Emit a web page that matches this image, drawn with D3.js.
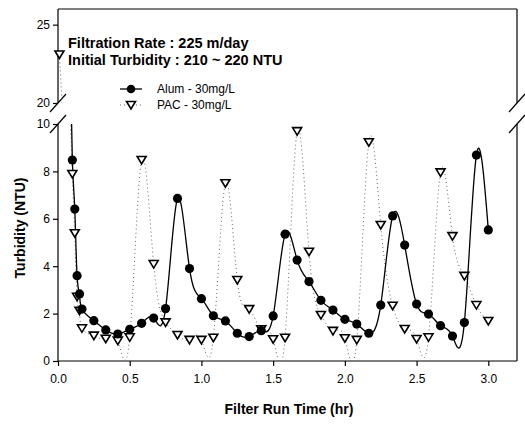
<!DOCTYPE html>
<html>
<head>
<meta charset="utf-8">
<script src="https://cdn.jsdelivr.net/npm/d3@7"></script>
<style>
  body { margin: 0; background: #fff; }
  svg { font-family: Arial, "Liberation Sans", sans-serif; }
  .axis path, .axis line { stroke: #000; stroke-width: 1.2; }
  .axis text { font-size: 12px; fill: #000; }
</style>
</head>
<body>
<svg id="chart" width="525" height="424"></svg>
<script>
// data
const alumTime = [0.083, 0.100, 0.117, 0.133, 0.150, 0.167, 0.250, 0.333, 0.417, 0.500, 0.583, 0.667, 0.750, 0.833, 0.917, 1.000, 1.083, 1.167, 1.250, 1.333, 1.417, 1.500, 1.583, 1.667, 1.750, 1.833, 1.917, 2.000, 2.083, 2.167, 2.250, 2.333, 2.417, 2.500, 2.583, 2.667, 2.750, 2.833, 2.917, 3.000];
const alumTurb = [13.5, 8.48, 6.41, 3.60, 2.83, 2.19, 1.70, 1.31, 1.14, 1.34, 1.59, 1.81, 2.21, 6.86, 3.90, 2.63, 1.91, 1.69, 1.17, 1.03, 1.28, 1.90, 5.35, 4.26, 3.35, 2.56, 2.15, 1.76, 1.56, 1.17, 2.36, 6.12, 4.89, 2.40, 1.98, 1.49, 1.05, 1.62, 8.69, 5.53];

const pacTime = [0.010, 0.100, 0.117, 0.133, 0.150, 0.167, 0.250, 0.333, 0.417, 0.500, 0.583, 0.667, 0.750, 0.833, 0.917, 1.000, 1.083, 1.167, 1.250, 1.333, 1.417, 1.500, 1.583, 1.667, 1.750, 1.833, 1.917, 2.000, 2.083, 2.167, 2.250, 2.333, 2.417, 2.500, 2.583, 2.667, 2.750, 2.833, 2.917, 3.000];
const pacTurb = [23.1, 7.89, 5.39, 2.71, 2.12, 1.38, 1.07, 0.94, 0.86, 1.00, 8.48, 4.09, 1.63, 1.10, 0.89, 0.89, 0.98, 7.50, 3.42, 2.19, 1.34, 0.92, 0.98, 9.70, 4.61, 1.94, 1.27, 0.96, 0.89, 9.23, 5.74, 2.33, 1.35, 0.93, 1.00, 7.96, 5.27, 3.59, 2.36, 1.69];

const xTicks = [0, 0.5, 1.0, 1.5, 2.0, 2.5, 3.0];
const yTicksLow = [0, 2, 4, 6, 8, 10];
const yTicksHigh = [20, 25];

const alum = alumTime.map((t, i) => ({ t, v: alumTurb[i] }));
const pac = pacTime.map((t, i) => ({ t, v: pacTurb[i] }));

const svg = d3.select("#chart");

// layout
const left = 58, right = 517;
const hiTop = 9, hiBottom = 103;
const loTop = 124, loBottom = 361;

const x = d3.scaleLinear().domain([0, 3.2]).range([left, right]);
const yHi = d3.scaleLinear().domain([20, 26]).range([hiBottom, hiTop]);
const yLo = d3.scaleLinear().domain([0, 10]).range([loBottom, loTop]);

// clip areas for the two panels
const defs = svg.append("defs");
defs.append("clipPath").attr("id", "clipHi").append("rect")
    .attr("x", left).attr("y", hiTop).attr("width", right - left).attr("height", hiBottom - hiTop);
defs.append("clipPath").attr("id", "clipLo").append("rect")
    .attr("x", left).attr("y", loTop).attr("width", right - left).attr("height", loBottom - loTop);

// frame: top line and right side
svg.append("line").attr("x1", left).attr("x2", right).attr("y1", hiTop).attr("y2", hiTop)
    .attr("stroke", "#000").attr("stroke-width", 1.2);
svg.append("line").attr("x1", right).attr("x2", right).attr("y1", hiTop).attr("y2", hiBottom)
    .attr("stroke", "#000").attr("stroke-width", 1.2);
svg.append("line").attr("x1", right).attr("x2", right).attr("y1", loTop).attr("y2", loBottom)
    .attr("stroke", "#000").attr("stroke-width", 1.2);

// axes
svg.append("g").attr("class", "axis")
    .attr("transform", `translate(0,${loBottom})`)
    .call(d3.axisBottom(x).tickValues(xTicks).tickFormat(d3.format(".1f")).tickSize(5).tickPadding(8))
    .call(g => g.select(".domain").attr("d", `M${left},0H${right}`));

svg.append("g").attr("class", "axis")
    .attr("transform", `translate(${left},0)`)
    .call(d3.axisLeft(yLo).tickValues(yTicksLow).tickFormat(d3.format("d")).tickSize(5).tickPadding(3))
    .call(g => g.select(".domain").attr("d", `M0,${loTop}V${loBottom}`));

svg.append("g").attr("class", "axis")
    .attr("transform", `translate(${left},0)`)
    .call(d3.axisLeft(yHi).tickValues(yTicksHigh).tickFormat(d3.format("d")).tickSize(5).tickPadding(3))
    .call(g => g.select(".domain").attr("d", `M0,${hiTop}V${hiBottom}`));

// break marks
[[left, hiBottom], [left, loTop], [right, hiBottom], [right, loTop]].forEach(([bx, by]) => {
    svg.append("line")
        .attr("x1", bx - 8).attr("y1", by + 9)
        .attr("x2", bx + 8).attr("y2", by - 9)
        .attr("stroke", "#000").attr("stroke-width", 1.2);
});

// lines
const lineLo = d3.line().x(d => x(d.t)).y(d => yLo(d.v)).curve(d3.curveNatural);
const lineHi = d3.line().x(d => x(d.t)).y(d => yHi(d.v)).curve(d3.curveNatural);

svg.append("path").attr("d", lineHi(pac)).attr("clip-path", "url(#clipHi)")
    .attr("fill", "none").attr("stroke", "#666").attr("stroke-width", 1).attr("stroke-dasharray", "1,3");
svg.append("path").attr("d", lineLo(pac)).attr("clip-path", "url(#clipLo)")
    .attr("fill", "none").attr("stroke", "#666").attr("stroke-width", 1).attr("stroke-dasharray", "1,3");
svg.append("path").attr("d", lineLo(alum)).attr("clip-path", "url(#clipLo)")
    .attr("fill", "none").attr("stroke", "#000").attr("stroke-width", 1.3);

// markers
const tri = "M-4.5,-3.5L4.5,-3.5L0,4Z";
const yOf = v => v >= 20 ? yHi(v) : (v <= 10 ? yLo(v) : null);

svg.append("g").selectAll("path")
    .data(pac.filter(d => yOf(d.v) !== null))
    .join("path")
    .attr("d", tri)
    .attr("transform", d => `translate(${x(d.t)},${yOf(d.v)})`)
    .attr("fill", "#fff").attr("stroke", "#000").attr("stroke-width", 1.6);

svg.append("g").selectAll("circle")
    .data(alum.filter(d => yOf(d.v) !== null))
    .join("circle")
    .attr("cx", d => x(d.t)).attr("cy", d => yOf(d.v)).attr("r", 4.6)
    .attr("fill", "#000");

// annotation
svg.append("text").attr("x", 68).attr("y", 48)
    .attr("font-size", 14.5).attr("font-weight", "bold")
    .text("Filtration Rate : 225 m/day");
svg.append("text").attr("x", 68).attr("y", 65)
    .attr("font-size", 14.5).attr("font-weight", "bold")
    .text("Initial Turbidity : 210 ~ 220 NTU");

// legend
const legend = svg.append("g");
legend.append("line").attr("x1", 120).attr("x2", 142).attr("y1", 89).attr("y2", 89)
    .attr("stroke", "#000").attr("stroke-width", 1.3);
legend.append("circle").attr("cx", 131).attr("cy", 89).attr("r", 4.3).attr("fill", "#000");
legend.append("text").attr("x", 157).attr("y", 93).attr("font-size", 12).text("Alum - 30mg/L");

legend.append("line").attr("x1", 120).attr("x2", 142).attr("y1", 105).attr("y2", 105)
    .attr("stroke", "#666").attr("stroke-width", 1).attr("stroke-dasharray", "1,3");
legend.append("path").attr("d", tri).attr("transform", "translate(131,105)")
    .attr("fill", "#fff").attr("stroke", "#000").attr("stroke-width", 1.6);
legend.append("text").attr("x", 157).attr("y", 109).attr("font-size", 12).text("PAC - 30mg/L");

// axis titles
svg.append("text")
    .attr("transform", "rotate(-90)")
    .attr("x", -228).attr("y", 25)
    .attr("text-anchor", "middle")
    .attr("font-size", 14).attr("font-weight", "bold")
    .text("Turbidity (NTU)");

svg.append("text")
    .attr("x", 289).attr("y", 414)
    .attr("text-anchor", "middle")
    .attr("font-size", 14).attr("font-weight", "bold")
    .text("Filter Run Time (hr)");
</script>
</body>
</html>
